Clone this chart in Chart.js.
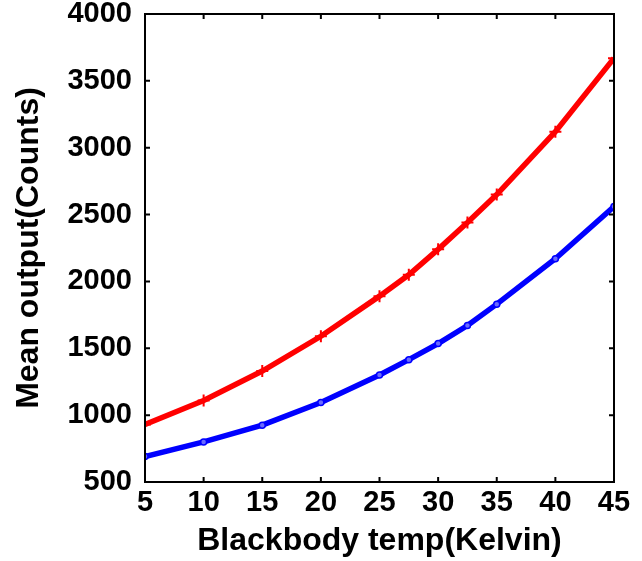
<!DOCTYPE html>
<html>
<head>
<meta charset="utf-8">
<script src="https://cdn.jsdelivr.net/npm/chart.js@4.4.0/dist/chart.umd.min.js"></script>
<style>
  html, body { margin: 0; padding: 0; background: #fff; }
  #wrap { width: 642px; height: 561px; }
</style>
</head>
<body>
<div id="wrap"><canvas id="temps" width="642" height="561"></canvas></div>
<script>
// blackbody temperatures (K)
const temps = [5, 10, 15, 20, 25, 27.5, 30, 32.5, 35, 40, 45]
// mean output
const redCounts = [930, 1110, 1330, 1590, 1890, 2050, 2240, 2440, 2650, 3120, 3670]
const blueCounts = [690, 800, 925, 1095, 1300, 1415, 1535, 1670, 1830, 2170, 2560]
const xTicks = [5, 10, 15, 20, 25, 30, 35, 40, 45]
const yTicks = [500, 1000, 1500, 2000, 2500, 3000, 3500, 4000]

const fontFam = '"Liberation Sans", Arial, Helvetica, sans-serif'

const toPoints = (ys) => temps.map((t, i) => ({ x: t, y: ys[i] }))

// matlab-ish box with inward ticks on every side
const boxPlugin = {
    id: 'box',
    afterDatasetsDraw(chart) {
        const { ctx, chartArea: a, scales } = chart
        ctx.save()
        ctx.strokeStyle = '#000'
        ctx.lineWidth = 2
        ctx.strokeRect(a.left, a.top, a.right - a.left, a.bottom - a.top)
        ctx.beginPath()
        xTicks.forEach(v => {
            const px = scales.x.getPixelForValue(v)
            ctx.moveTo(px, a.bottom); ctx.lineTo(px, a.bottom - 5)
            ctx.moveTo(px, a.top); ctx.lineTo(px, a.top + 5)
        })
        yTicks.forEach(v => {
            const py = scales.y.getPixelForValue(v)
            ctx.moveTo(a.left, py); ctx.lineTo(a.left + 5, py)
            ctx.moveTo(a.right, py); ctx.lineTo(a.right - 5, py)
        })
        ctx.stroke()
        ctx.restore()
    }
}

new Chart(document.getElementById('temps'), {
    type: 'line',
    data: {
        datasets: [
            {
                label: 'red',
                data: toPoints(redCounts),
                borderColor: '#ff0000',
                backgroundColor: '#ff0000',
                borderWidth: 5.5,
                pointStyle: 'cross',
                pointRadius: 6,
                pointBorderWidth: 2,
                tension: 0
            },
            {
                label: 'blue',
                data: toPoints(blueCounts),
                borderColor: '#0000ff',
                backgroundColor: '#6a6aff',
                borderWidth: 5.5,
                pointStyle: 'circle',
                pointRadius: 3,
                pointBorderWidth: 1.5,
                tension: 0
            }
        ]
    },
    options: {
        responsive: false,
        animation: false,
        layout: { padding: { top: 14, right: 28, left: 0, bottom: 0 }, autoPadding: false },
        plugins: {
            legend: { display: false },
            tooltip: { enabled: false }
        },
        scales: {
            x: {
                type: 'linear',
                min: 5,
                max: 45,
                afterBuildTicks: (s) => { s.ticks = xTicks.map(v => ({ value: v })) },
                afterFit: (s) => {
                    s.height = 79
                    s.paddingLeft = 0
                    s.paddingRight = 0
                },
                grid: { display: false, drawTicks: false },
                border: { display: false },
                ticks: {
                    color: '#000',
                    padding: 4,
                    maxRotation: 0,
                    callback: (v) => String(v),
                    font: { family: fontFam, size: 29, weight: 'bold' }
                },
                title: {
                    display: true,
                    text: 'Blackbody temp(Kelvin)',
                    color: '#000',
                    padding: { top: 0, bottom: 1 },
                    font: { family: fontFam, size: 32, weight: 'bold' }
                }
            },
            y: {
                min: 500,
                max: 4000,
                afterBuildTicks: (s) => { s.ticks = yTicks.map(v => ({ value: v })) },
                afterFit: (s) => {
                    s.width = 145
                    s.paddingTop = 0
                    s.paddingBottom = 0
                },
                grid: { display: false, drawTicks: false },
                border: { display: false },
                ticks: {
                    color: '#000',
                    padding: 13,
                    callback: (v) => String(v),
                    font: { family: fontFam, size: 29, weight: 'bold' }
                },
                title: {
                    display: true,
                    text: 'Mean output(Counts)',
                    color: '#000',
                    padding: { top: 10, bottom: 0 },
                    font: { family: fontFam, size: 32, weight: 'bold' }
                }
            }
        }
    },
    plugins: [boxPlugin]
})
</script>
</body>
</html>
